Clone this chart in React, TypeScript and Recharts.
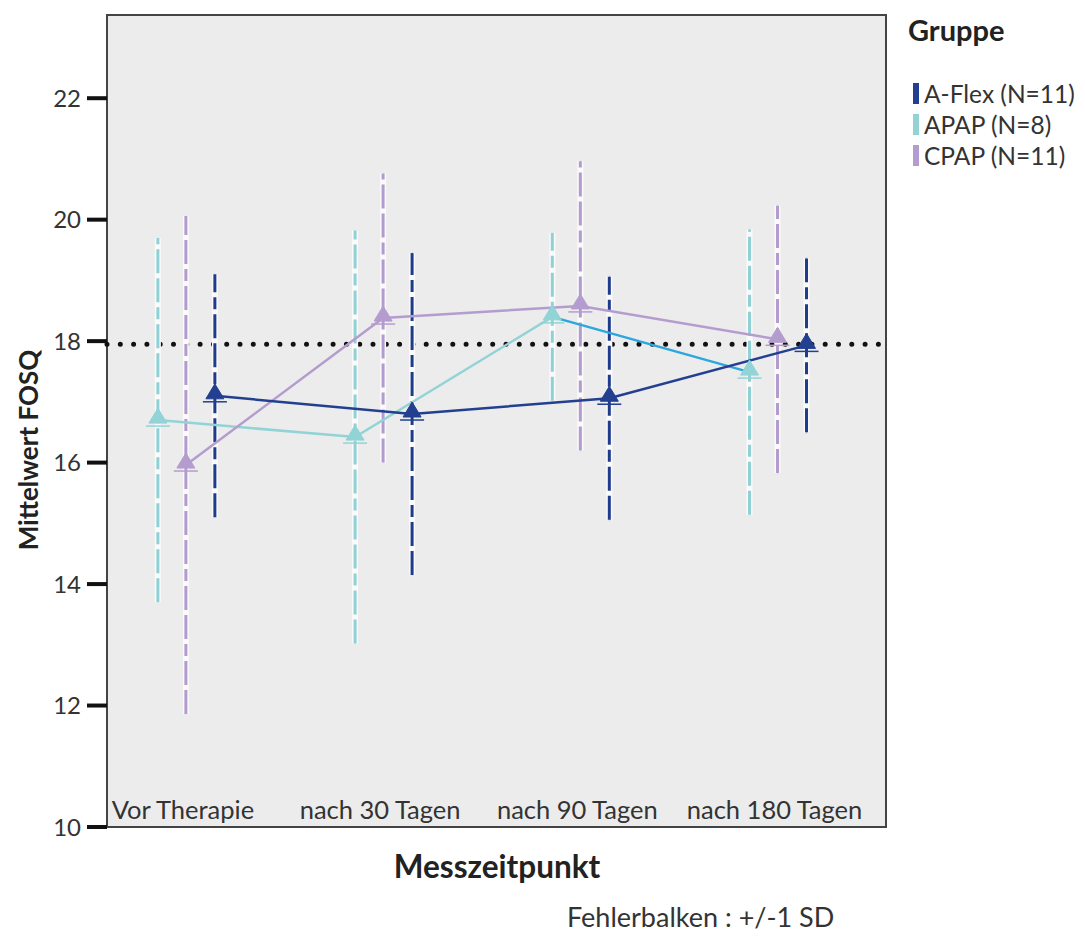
import React from "react";
import {
  ComposedChart,
  Line,
  XAxis,
  YAxis,
  ErrorBar,
  ReferenceLine,
  ReferenceArea,
  CartesianGrid,
} from "recharts";

const timepoints = ["Vor Therapie", "nach 30 Tagen", "nach 90 Tagen", "nach 180 Tagen"];
const yTicks = [10, 12, 14, 16, 18, 20, 22];

const aflexMean = [17.1, 16.8, 17.06, 17.93];
const aflexSd = [2.0, 2.65, 2.0, 1.43];
const apapMean = [16.7, 16.42, 18.4, 17.49];
const apapSd = [3.0, 3.4, 1.38, 2.35];
const cpapMean = [15.96, 18.38, 18.58, 18.03];
const cpapSd = [4.1, 2.38, 2.38, 2.2];

const overallMean = 17.95;

const FONT = "Lato, 'Open Sans', sans-serif";

const groups = [
  { name: "A-Flex (N=11)", mean: aflexMean, sd: aflexSd, offset: 0.147, color: "#233f8f", bar: "#1f3b8c" },
  { name: "APAP (N=8)", mean: apapMean, sd: apapSd, offset: -0.142, color: "#92d3d6", bar: "#8fd1d5" },
  { name: "CPAP (N=11)", mean: cpapMean, sd: cpapSd, offset: 0, color: "#b59ccf", bar: "#b39bcf" },
];

const rows = (g: (typeof groups)[number]) =>
  g.mean.map((y, i) => ({ x: i + g.offset, y, sd: g.sd[i] }));

const [aflex, apap, cpap] = groups;
const aflexRows = rows(aflex);
const apapRows = rows(apap);
const cpapRows = rows(cpap);

const triangle = (color: string) => (props: any) => {
  const { cx, cy, index } = props;
  if (cx == null || cy == null) return <g key={index} />;
  return (
    <g key={`tri-${index}`}>
      <line x1={cx - 12} x2={cx + 12} y1={cy + 6} y2={cy + 6} stroke={color} strokeWidth={1.5} />
      <polygon
        points={`${cx},${cy - 12} ${cx - 9},${cy + 3} ${cx + 9},${cy + 3}`}
        fill={color}
        stroke={color}
        strokeWidth={1}
      />
    </g>
  );
};

const CategoryTick = (props: any) => {
  const { x, y, payload } = props;
  return (
    <text x={x - 3} y={y - 8} textAnchor="middle" fontFamily={FONT} fontSize={25.5} fill="#333">
      {timepoints[payload.value]}
    </text>
  );
};

const barSets = [
  { g: apap, data: apapRows },
  { g: cpap, data: cpapRows },
  { g: aflex, data: aflexRows },
];

export default function App() {
  return (
    <div style={{ position: "absolute", left: 0, top: 0, width: 1085, height: 938, background: "#fff" }}>
      <ComposedChart
        width={1085}
        height={938}
        margin={{ top: 15, right: 199, bottom: 0, left: 0 }}
      >
        <CartesianGrid horizontal={false} vertical={false} fill="#ececec" />
        <XAxis
          type="number"
          dataKey="x"
          domain={[-0.4, 3.55]}
          ticks={[0, 1, 2, 3]}
          allowDataOverflow
          axisLine={false}
          tickLine={false}
          tickSize={0}
          tickMargin={0}
          height={111}
          tick={<CategoryTick />}
        />
        <YAxis
          type="number"
          domain={[10, 23.37]}
          ticks={yTicks}
          allowDataOverflow
          width={107}
          axisLine={false}
          tickSize={20}
          tickMargin={6}
          tickLine={{ stroke: "#111", strokeWidth: 4 }}
          tick={{ fontFamily: FONT, fontSize: 24, fill: "#333" }}
        />
        <ReferenceArea
          x1={-0.4}
          x2={3.55}
          y1={10}
          y2={23.37}
          fill="none"
          fillOpacity={0}
          stroke="#444"
          strokeWidth={2}
          ifOverflow="visible"
        />
        <ReferenceLine
          y={overallMean}
          stroke="#111"
          strokeWidth={5}
          strokeDasharray="0 13.3"
          strokeLinecap="round"
        />

        {/* white halo under the dashed SD bars */}
        {barSets.map(({ g, data }) => (
          <Line
            key={`halo-${g.name}`}
            data={data}
            dataKey="y"
            stroke="none"
            dot={false}
            activeDot={false}
            isAnimationActive={false}
          >
            <ErrorBar dataKey="sd" direction="y" width={0} stroke="#fafafa" strokeWidth={6} isAnimationActive={false} />
          </Line>
        ))}

        {/* dashed SD bars */}
        {barSets.map(({ g, data }) => (
          <Line
            key={`bars-${g.name}`}
            data={data}
            dataKey="y"
            stroke="none"
            dot={false}
            activeDot={false}
            isAnimationActive={false}
          >
            <ErrorBar
              dataKey="sd"
              direction="y"
              width={0}
              stroke={g.bar}
              strokeWidth={3}
              strokeDasharray="24 5 24 5 12 5"
              isAnimationActive={false}
            />
          </Line>
        ))}

        {/* connecting lines */}
        <Line data={apapRows.slice(0, 3)} dataKey="y" stroke={apap.color} strokeWidth={2.5} dot={false} activeDot={false} isAnimationActive={false} />
        <Line data={apapRows.slice(2)} dataKey="y" stroke="#2ba6de" strokeWidth={2.5} dot={false} activeDot={false} isAnimationActive={false} />
        <Line data={cpapRows} dataKey="y" stroke={cpap.color} strokeWidth={2.5} dot={false} activeDot={false} isAnimationActive={false} />
        <Line data={aflexRows} dataKey="y" stroke={aflex.color} strokeWidth={2.5} dot={false} activeDot={false} isAnimationActive={false} />

        {/* triangle markers */}
        <Line data={apapRows} dataKey="y" stroke="none" dot={triangle(apap.color)} activeDot={false} isAnimationActive={false} />
        <Line data={cpapRows} dataKey="y" stroke="none" dot={triangle(cpap.color)} activeDot={false} isAnimationActive={false} />
        <Line data={aflexRows} dataKey="y" stroke="none" dot={triangle(aflex.color)} activeDot={false} isAnimationActive={false} />
      </ComposedChart>

      <div
        style={{
          position: "absolute",
          left: 28,
          top: 450,
          transform: "translate(-50%, -50%) rotate(-90deg)",
          fontFamily: FONT,
          fontWeight: 700,
          fontSize: 26,
          color: "#222",
          whiteSpace: "nowrap",
        }}
      >
        Mittelwert FOSQ
      </div>
      <div
        style={{
          position: "absolute",
          left: 497,
          top: 866,
          transform: "translate(-50%, -50%)",
          fontFamily: FONT,
          fontWeight: 700,
          fontSize: 31.5,
          color: "#222",
          whiteSpace: "nowrap",
        }}
      >
        Messzeitpunkt
      </div>
      <div
        style={{
          position: "absolute",
          left: 567,
          top: 900,
          fontFamily: FONT,
          fontSize: 27,
          color: "#333",
          whiteSpace: "nowrap",
        }}
      >
        Fehlerbalken : +/-1 SD
      </div>

      <div style={{ position: "absolute", left: 908, top: 12, fontFamily: FONT, color: "#222" }}>
        <div style={{ fontWeight: 700, fontSize: 29, marginBottom: 31 }}>Gruppe</div>
        {groups.map((g) => (
          <div key={g.name} style={{ display: "flex", alignItems: "center", height: 31, fontSize: 24.5, color: "#333" }}>
            <span style={{ display: "inline-block", width: 6, height: 21, background: g.color, marginLeft: 5, marginRight: 5 }} />
            {g.name}
          </div>
        ))}
      </div>
    </div>
  );
}
